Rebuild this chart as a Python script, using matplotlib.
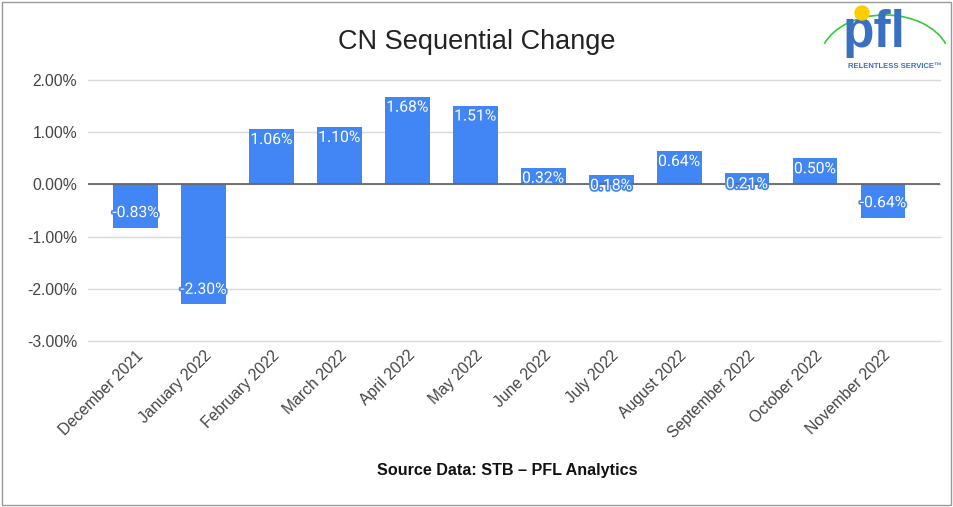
import matplotlib.pyplot as plt
import matplotlib.patheffects as pe
from matplotlib.patches import Rectangle, Circle, Arc
from matplotlib.ticker import FuncFormatter

months = ["December 2021", "January 2022", "February 2022", "March 2022",
          "April 2022", "May 2022", "June 2022", "July 2022", "August 2022",
          "September 2022", "October 2022", "November 2022"]
changes = [-0.83, -2.30, 1.06, 1.10, 1.68, 1.51, 0.32, 0.18, 0.64, 0.21, 0.50, -0.64]

blue = "#4285f4"
plt.rcParams["font.family"] = ["Liberation Sans", "DejaVu Sans"]

fig = plt.figure(figsize=(9.54, 5.07), dpi=100)
ax = fig.add_axes([88 / 954, 1 - 341 / 507, (940 - 88) / 954, (341 - 80) / 507])

x = range(len(months))
ax.bar(x, changes, width=0.66, color=blue, zorder=2)

for i, v in enumerate(changes):
    off = -0.2 if v > 0 else 0.29
    ax.text(i, v + off, f"{v:.2f}%", ha="center", va="center", color="white",
            fontsize=11.3, family="Roboto", zorder=4,
            path_effects=[pe.withStroke(linewidth=2.5, foreground=blue)])

ax.set_ylim(-3, 2)
ax.set_xlim(-0.7, 11.84)
ax.set_yticks([-3, -2, -1, 0, 1, 2])
ax.yaxis.set_major_formatter(FuncFormatter(lambda v, p: f"{v:.2f}%"))
ax.grid(axis="y", color="#d9d9d9", linewidth=1, zorder=0)
for gl in ax.get_ygridlines():
    gl.set_clip_on(False)
ax.axhline(0, color="#666666", linewidth=1.3, zorder=3)
for s in ax.spines.values():
    s.set_visible(False)
ax.tick_params(axis="y", length=0, labelsize=11.3, colors="#444444", pad=8)
ax.tick_params(axis="x", length=0, labelsize=11.3, colors="#444444", pad=5)
ax.set_xticks(list(x))
ax.set_xticklabels(months, rotation=45, ha="right", rotation_mode="anchor")

fig.text(0.5, 1 - 42 / 507, "CN Sequential Change", ha="center", va="center",
         fontsize=19.5, color="#222222")
fig.text(507 / 954, 1 - 471 / 507, "Source Data: STB \u2013 PFL Analytics",
         ha="center", va="center", fontsize=11.6, fontweight="bold", color="#111111")

# border
fig.patches.append(Rectangle((0.002, 0.003), 0.995, 0.993, transform=fig.transFigure,
                             fill=False, edgecolor="#999999", linewidth=1))

# logo
lax = fig.add_axes([822 / 954, 1 - 75 / 507, 130 / 954, 75 / 507])
lax.set_xlim(822, 952)
lax.set_ylim(75, 0)
lax.axis("off")
lax.add_patch(Arc((885, 60), 130, 90, theta1=195, theta2=345, color="#33cc33", linewidth=1.2))
lax.text(874, 33, "pfl", ha="center", va="center", fontsize=37, fontweight="bold",
         color="#3a6fc4")
lax.add_patch(Circle((862, 13), 7, color="#ffcc00", zorder=5))
lax.text(895, 66, "RELENTLESS SERVICE\u2122", ha="center", va="center", fontsize=5.5,
         fontweight="bold", color="#3a6fc4")

fig.savefig("out.png", dpi=100)
